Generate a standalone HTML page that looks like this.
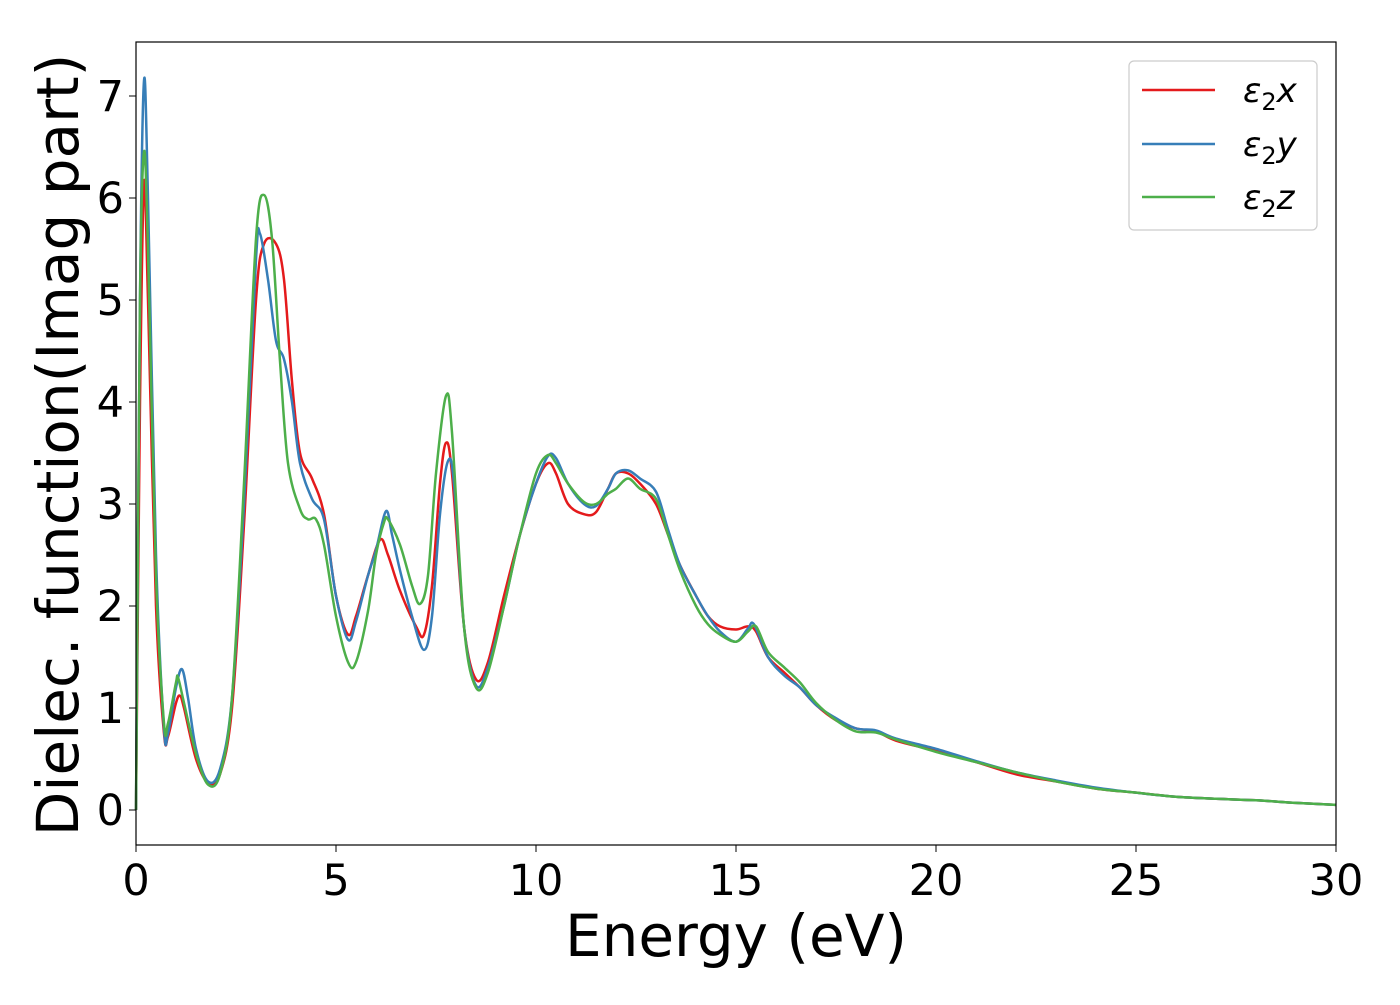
<!DOCTYPE html>
<html><head><meta charset="utf-8"><style>
html,body{margin:0;padding:0;background:#fff;}
svg text{font-family:"DejaVu Sans","Liberation Sans",sans-serif;fill:#000;}
</style></head><body>
<svg id="chart" width="1400" height="1000">
<rect x="0" y="0" width="1400" height="1000" fill="#fff"/>
<g id="plot"></g>
<g id="axes"></g>
<rect x="136" y="42" width="1200" height="803" fill="none" stroke="#000" stroke-width="1.2"/>
<text x="736" y="956" font-size="58" text-anchor="middle">Energy (eV)</text>
<text transform="translate(78,445) rotate(-90)" font-size="58" text-anchor="middle">Dielec. function(Imag part)</text>
<g>
<rect x="1129" y="61" width="188" height="169" rx="5" fill="#fff" stroke="#ccc" stroke-width="1.2"/>
<g><line x1="1142" y1="90" x2="1215" y2="90" stroke="#e41a1c" stroke-width="2.5"/><text x="1243" y="102" font-size="34" font-style="italic">ε<tspan font-size="24" dy="8" font-style="normal">2</tspan><tspan dy="-8">x</tspan></text></g>
<g><line x1="1142" y1="144" x2="1215" y2="144" stroke="#377eb8" stroke-width="2.5"/><text x="1243" y="156" font-size="34" font-style="italic">ε<tspan font-size="24" dy="8" font-style="normal">2</tspan><tspan dy="-8">y</tspan></text></g>
<g><line x1="1142" y1="197" x2="1215" y2="197" stroke="#4daf4a" stroke-width="2.5"/><text x="1243" y="209" font-size="34" font-style="italic">ε<tspan font-size="24" dy="8" font-style="normal">2</tspan><tspan dy="-8">z</tspan></text></g>
</g>
</svg>
<script>
const xTicks=[0,5,10,15,20,25,30];
const yTicks=[0,1,2,3,4,5,6,7];
const energy=[0,0.1,0.2,0.3,0.5,0.7,0.8,1.0,1.1,1.2,1.5,1.8,2.1,2.4,2.7,3.0,3.2,3.5,3.7,3.9,4.1,4.4,4.7,5.0,5.3,5.5,5.8,6.1,6.3,6.6,7.0,7.2,7.4,7.6,7.75,7.9,8.2,8.5,8.8,9.2,9.6,10.0,10.3,10.5,10.8,11.2,11.5,11.8,12.0,12.3,12.6,13.0,13.3,13.6,14.0,14.3,14.6,15.0,15.3,15.5,15.8,16.2,16.6,17.0,17.5,18.0,18.5,19,20,21,22,23,24,25,26,27,28,29,30];
const eps2x=[0,4,6.15,5,2,0.75,0.72,1.05,1.12,1.0,0.5,0.27,0.35,1.0,2.8,5.0,5.55,5.55,5.2,4.2,3.5,3.25,2.9,2.1,1.72,1.9,2.3,2.65,2.5,2.15,1.8,1.72,2.2,3.2,3.6,3.3,1.8,1.28,1.45,2.1,2.7,3.2,3.4,3.3,3.0,2.9,2.92,3.15,3.3,3.3,3.2,3.0,2.7,2.4,2.1,1.9,1.8,1.77,1.8,1.75,1.5,1.35,1.2,1.03,0.88,0.8,0.77,0.68,0.58,0.47,0.35,0.28,0.21,0.17,0.13,0.11,0.095,0.07,0.05];
const energyY=[0,0.1,0.2,0.3,0.5,0.7,0.8,1.0,1.15,1.3,1.5,1.8,2.1,2.4,2.7,3.0,3.1,3.3,3.5,3.7,3.9,4.1,4.4,4.7,5.0,5.3,5.5,5.8,6.0,6.25,6.4,6.6,6.9,7.2,7.4,7.6,7.8,7.95,8.2,8.5,8.8,9.2,9.6,10.0,10.3,10.5,10.8,11.2,11.5,11.8,12.0,12.3,12.6,13.0,13.3,13.6,14.0,14.3,14.6,15.0,15.3,15.45,15.8,16.2,16.6,17.0,17.5,18.0,18.5,19,20,21,22,23,24,25,26,27,28,29,30];
const eps2y=[0,5,7.15,6,2.5,0.8,0.75,1.2,1.38,1.1,0.6,0.28,0.4,1.1,3.0,5.4,5.65,5.2,4.6,4.42,4.0,3.4,3.05,2.85,2.1,1.67,1.85,2.3,2.55,2.93,2.7,2.35,1.9,1.57,1.9,2.9,3.42,3.2,1.8,1.22,1.4,2.0,2.7,3.2,3.47,3.45,3.2,3.0,2.98,3.15,3.3,3.33,3.25,3.12,2.75,2.4,2.1,1.9,1.75,1.65,1.78,1.82,1.5,1.32,1.2,1.03,0.9,0.8,0.78,0.7,0.6,0.48,0.37,0.29,0.22,0.17,0.13,0.11,0.095,0.07,0.05];
const energyZ=[0,0.1,0.2,0.3,0.5,0.7,0.8,1.0,1.05,1.2,1.5,1.8,2.1,2.4,2.7,3.0,3.2,3.4,3.6,3.8,4.1,4.3,4.5,4.7,5.0,5.3,5.5,5.8,6.0,6.2,6.3,6.6,6.9,7.1,7.3,7.5,7.75,7.9,8.2,8.5,8.8,9.2,9.6,10.0,10.3,10.5,10.8,11.2,11.5,11.8,12.0,12.3,12.6,13.0,13.3,13.6,14.0,14.3,14.6,15.0,15.3,15.5,15.8,16.2,16.6,17.0,17.5,18.0,18.5,19,20,21,22,23,24,25,26,27,28,29,30];
const eps2z=[0,5,6.45,5.5,2.3,0.85,0.85,1.25,1.3,1.05,0.55,0.25,0.35,1.1,3.2,5.6,6.03,5.6,4.4,3.4,2.95,2.85,2.85,2.6,1.9,1.45,1.45,1.95,2.5,2.82,2.85,2.6,2.2,2.02,2.3,3.3,4.06,3.7,1.8,1.2,1.35,2.0,2.7,3.3,3.48,3.4,3.2,3.02,3.0,3.1,3.15,3.25,3.15,3.05,2.7,2.35,2.0,1.82,1.72,1.65,1.75,1.8,1.55,1.4,1.25,1.05,0.88,0.77,0.76,0.69,0.57,0.47,0.37,0.28,0.21,0.17,0.13,0.11,0.095,0.07,0.05];

const NS="http://www.w3.org/2000/svg";
const X0=136,X1=1336,Y0=810,PX_PER_Y=102;
function xs(v){return X0+(v-0)/(30-0)*(X1-X0);}
function ys(v){return Y0-v*PX_PER_Y;}
const axes=document.getElementById('axes');
xTicks.forEach(t=>{
  const l=document.createElementNS(NS,'line');
  l.setAttribute('x1',xs(t));l.setAttribute('x2',xs(t));l.setAttribute('y1',845);l.setAttribute('y2',852);l.setAttribute('stroke','#000');
  
  
  axes.appendChild(l);
  const tx=document.createElementNS(NS,'text');
  tx.setAttribute('x',xs(t));tx.setAttribute('y',895);tx.setAttribute('font-size','43');tx.setAttribute('text-anchor','middle');
  tx.textContent=t;
  
  
  axes.appendChild(tx);
});
yTicks.forEach(t=>{
  const l=document.createElementNS(NS,'line');
  l.setAttribute('x1',129);l.setAttribute('x2',136);l.setAttribute('y1',ys(t));l.setAttribute('y2',ys(t));l.setAttribute('stroke','#000');
  
  
  axes.appendChild(l);
  const tx=document.createElementNS(NS,'text');
  tx.setAttribute('x',124);tx.setAttribute('y',ys(t)+15);tx.setAttribute('font-size','43');tx.setAttribute('text-anchor','end');
  tx.textContent=t;
  
  
  axes.appendChild(tx);
});
function smoothPath(ex,ey){
  const p=ex.map((e,i)=>[xs(e),ys(ey[i])]);
  let d='M'+p[0][0]+','+p[0][1];
  for(let i=0;i<p.length-1;i++){
    const a=p[Math.max(0,i-1)],b=p[i],c=p[i+1],e=p[Math.min(p.length-1,i+2)];
    const c1=[b[0]+(c[0]-a[0])/6,b[1]+(c[1]-a[1])/6];
    const c2=[c[0]-(e[0]-b[0])/6,c[1]-(e[1]-b[1])/6];
    d+=' C'+c1[0].toFixed(2)+','+c1[1].toFixed(2)+' '+c2[0].toFixed(2)+','+c2[1].toFixed(2)+' '+c[0].toFixed(2)+','+c[1].toFixed(2);
  }
  return d;
}
const plot=document.getElementById('plot');
[[energy,eps2x,'#e41a1c','series-eps2x'],[energyY,eps2y,'#377eb8','series-eps2y'],[energyZ,eps2z,'#4daf4a','series-eps2z']].forEach(s=>{
  const path=document.createElementNS(NS,'path');
  path.setAttribute('d',smoothPath(s[0],s[1]));
  path.setAttribute('fill','none');path.setAttribute('stroke',s[2]);path.setAttribute('stroke-width','2.5');
  
  
  plot.appendChild(path);
});
</script>
</body></html>
